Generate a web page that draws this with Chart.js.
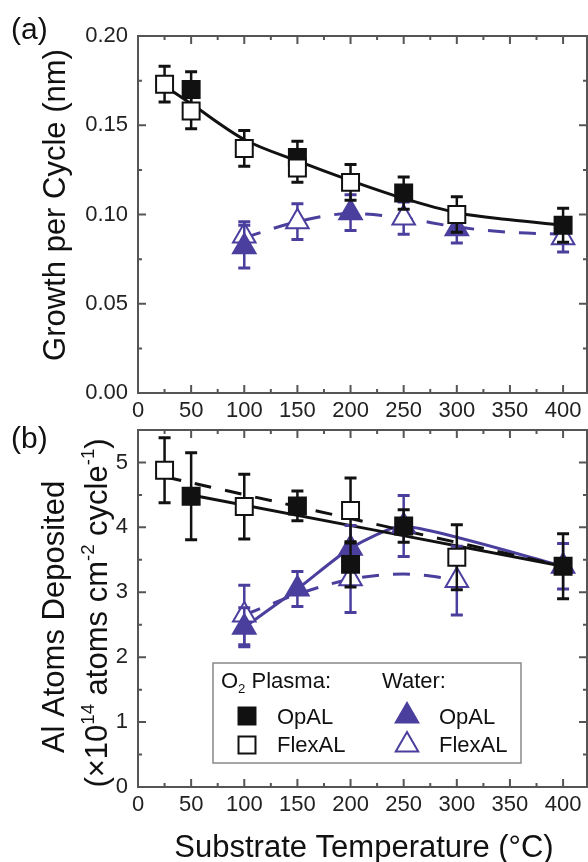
<!DOCTYPE html>
<html>
<head>
<meta charset="utf-8">
<script src="https://cdn.jsdelivr.net/npm/chart.js@4.4.1/dist/chart.umd.min.js"></script>
<style>
	html, body { margin: 0; padding: 0; background: #fff; }
	#wrap { position: relative; width: 588px; height: 862px; }
	canvas { position: absolute; left: 0; top: 0; }
</style>
</head>
<body>
<div id="wrap">
	<canvas id="chart-a" width="588" height="862"></canvas>
	<canvas id="chart-b" width="588" height="862"></canvas>
</div>
<script>
const xTicks = [0, 50, 100, 150, 200, 250, 300, 350, 400];
const xMinorTicks = [25, 75, 125, 175, 225, 275, 325, 375];
const gpcTicks = [0, 0.05, 0.10, 0.15, 0.20];
const gpcMinorTicks = [0.025, 0.075, 0.125, 0.175];
const atomTicks = [0, 1, 2, 3, 4, 5];
const atomMinorTicks = [0.5, 1.5, 2.5, 3.5, 4.5];

// (a) growth per cycle (nm)
const gpcPlasmaOpalT = [50, 150, 250, 400];
const gpcPlasmaOpal = [0.170, 0.132, 0.112, 0.094];
const gpcPlasmaOpalErr = [0.010, 0.009, 0.009, 0.0095];
const gpcPlasmaFlexT = [25, 50, 100, 150, 200, 300];
const gpcPlasmaFlex = [0.173, 0.158, 0.137, 0.126, 0.118, 0.100];
const gpcPlasmaFlexErr = [0.010, 0.010, 0.010, 0.008, 0.010, 0.010];
const gpcWaterOpalT = [100, 200, 300];
const gpcWaterOpal = [0.082, 0.101, 0.092];
const gpcWaterOpalErr = [0.012, 0.010, 0.008];
const gpcWaterFlexT = [100, 150, 250, 400];
const gpcWaterFlex = [0.088, 0.096, 0.098, 0.087];
const gpcWaterFlexErr = [0.008, 0.010, 0.009, 0.008];
const gpcPlasmaFitT = [25, 50, 100, 150, 200, 250, 300, 350, 400];
const gpcPlasmaFit = [0.172, 0.162, 0.142, 0.130, 0.119, 0.109, 0.101, 0.097, 0.094];
const gpcWaterFitT = [100, 150, 200, 250, 300, 350, 400];
const gpcWaterFit = [0.087, 0.096, 0.1005, 0.098, 0.093, 0.090, 0.089];

// (b) Al atoms deposited (x10^14 atoms cm^-2 cycle^-1)
const atomPlasmaOpalT = [50, 150, 200, 250, 400];
const atomPlasmaOpal = [4.48, 4.33, 3.43, 4.02, 3.40];
const atomPlasmaOpalErr = [0.67, 0.23, 0.35, 0.25, 0.50];
const atomPlasmaFlexT = [25, 100, 200, 300];
const atomPlasmaFlex = [4.88, 4.32, 4.26, 3.54];
const atomPlasmaFlexErr = [0.50, 0.50, 0.50, 0.50];
const atomWaterOpalT = [100, 150, 200, 250, 400];
const atomWaterOpal = [2.46, 3.05, 3.68, 4.02, 3.40];
const atomWaterOpalErr = [0.30, 0.27, 0.35, 0.47, 0.35];
const atomWaterFlexT = [100, 200, 300];
const atomWaterFlex = [2.65, 3.21, 3.18];
const atomWaterFlexErr = [0.46, 0.52, 0.53];
const atomPlasmaOpalFitT = [50, 400];
const atomPlasmaOpalFit = [4.50, 3.40];
const atomPlasmaFlexFitT = [25, 400];
const atomPlasmaFlexFit = [4.78, 3.40];
const atomWaterOpalFitT = [100, 150, 200, 250, 400];
const atomWaterOpalFit = [2.46, 3.05, 3.68, 4.02, 3.40];
const atomWaterFlexFitT = [100, 150, 200, 250, 300];
const atomWaterFlexFit = [2.65, 2.97, 3.20, 3.28, 3.20];

const BLUE = '#4b3f9e';
const BLACK = '#111';
const FONT = '"Liberation Sans", Arial, sans-serif';
const font = size => size + 'px ' + FONT;

const points = (xs, ys) => xs.map((x, i) => ({ x: x, y: ys[i] }));
const markers = (xs, ys, err, style, fill, stroke, order) => ({
	data: points(xs, ys),
	err: err,
	errColor: stroke,
	showLine: false,
	pointStyle: style,
	pointRadius: style === 'rect' ? 12 : 13,
	pointBackgroundColor: fill,
	pointBorderColor: stroke,
	pointBorderWidth: 2,
	order: order
});
const curve = (xs, ys, color, dash, smooth, order) => ({
	data: points(xs, ys),
	showLine: true,
	fill: false,
	pointRadius: 0,
	borderColor: color,
	borderWidth: 3,
	borderDash: dash,
	tension: smooth ? 0.4 : 0.2,
	cubicInterpolationMode: smooth ? 'monotone' : 'default',
	order: order
});

const richWidth = (ctx, parts, size) => {
	let w = 0;
	for (const part of parts) {
		ctx.font = font(part.sup || part.sub ? size * 0.6 : size);
		w += ctx.measureText(part.t).width;
	}
	return w;
};
const drawRich = (ctx, parts, x, y, size) => {
	let cx = x;
	for (const part of parts) {
		ctx.font = font(part.sup || part.sub ? size * 0.6 : size);
		const dy = part.sup ? -size * 0.42 : (part.sub ? size * 0.22 : 0);
		ctx.fillText(part.t, cx, y + dy);
		cx += ctx.measureText(part.t).width;
	}
};
const drawMarker = (ctx, style, x, y, r, fill, stroke) => {
	ctx.beginPath();
	if (style === 'rect') {
		const s = r * Math.SQRT1_2;
		ctx.rect(x - s, y - s, 2 * s, 2 * s);
	} else {
		for (let k = 0; k < 3; k++) {
			const a = k * 2 * Math.PI / 3;
			const px = x + Math.sin(a) * r, py = y - Math.cos(a) * r;
			k ? ctx.lineTo(px, py) : ctx.moveTo(px, py);
		}
		ctx.closePath();
	}
	ctx.fillStyle = fill;
	ctx.fill();
	ctx.lineWidth = 2;
	ctx.strokeStyle = stroke;
	ctx.stroke();
};

const errorBars = {
	id: 'errorBars',
	beforeDatasetDraw(chart, args) {
		const ds = chart.data.datasets[args.index];
		if (!ds.err) return;
		const { ctx, scales: { x, y } } = chart;
		ctx.save();
		ctx.strokeStyle = ds.errColor;
		ds.data.forEach((p, i) => {
			const px = x.getPixelForValue(p.x);
			const top = y.getPixelForValue(p.y + ds.err[i]);
			const bottom = y.getPixelForValue(p.y - ds.err[i]);
			ctx.lineWidth = 2.5;
			ctx.beginPath();
			ctx.moveTo(px, top);
			ctx.lineTo(px, bottom);
			ctx.stroke();
			ctx.lineWidth = 3;
			ctx.beginPath();
			ctx.moveTo(px - 6, top);
			ctx.lineTo(px + 6, top);
			ctx.moveTo(px - 6, bottom);
			ctx.lineTo(px + 6, bottom);
			ctx.stroke();
		});
		ctx.restore();
	}
};

const frame = {
	id: 'frame',
	afterDraw(chart, args, opts) {
		const { ctx, chartArea: a, scales: { x, y } } = chart;
		ctx.save();
		ctx.strokeStyle = '#555';
		ctx.lineWidth = 2;
		ctx.strokeRect(a.left, a.top, a.right - a.left, a.bottom - a.top);
		ctx.beginPath();
		const xt = (values, len) => values.forEach(v => {
			const px = x.getPixelForValue(v);
			ctx.moveTo(px, a.bottom);
			ctx.lineTo(px, a.bottom - len);
			ctx.moveTo(px, a.top);
			ctx.lineTo(px, a.top + len);
		});
		const yt = (values, len) => values.forEach(v => {
			const py = y.getPixelForValue(v);
			ctx.moveTo(a.left, py);
			ctx.lineTo(a.left + len, py);
			ctx.moveTo(a.right, py);
			ctx.lineTo(a.right - len, py);
		});
		xt(xTicks, 8);
		xt(xMinorTicks, 4);
		yt(opts.yMajor, 8);
		yt(opts.yMinor, 4);
		ctx.stroke();
		ctx.restore();
	}
};

const options = (yMax, yTicks, yMinor, format, padTop, padBottom) => ({
	responsive: false,
	animation: false,
	events: [],
	layout: { autoPadding: false, padding: { top: padTop, bottom: padBottom, left: 0, right: 1 } },
	plugins: {
		legend: { display: false },
		tooltip: { enabled: false },
		frame: { yMajor: yTicks, yMinor: yMinor }
	},
	scales: {
		x: {
			type: 'linear',
			min: 0,
			max: 422.5,
			grid: { display: false, drawTicks: false },
			border: { display: false },
			afterBuildTicks: s => { s.ticks = xTicks.map(v => ({ value: v })); },
			afterFit: s => { s.height = 30; s.paddingLeft = 0; s.paddingRight = 0; },
			ticks: { color: '#222', font: { family: FONT, size: 22 }, padding: 5, maxRotation: 0 }
		},
		y: {
			type: 'linear',
			min: 0,
			max: yMax,
			grid: { display: false, drawTicks: false },
			border: { display: false },
			afterBuildTicks: s => { s.ticks = yTicks.map(v => ({ value: v })); },
			afterFit: s => { s.width = 138; s.paddingTop = 0; s.paddingBottom = 0; },
			ticks: { color: '#222', font: { family: FONT, size: 22 }, padding: 10, callback: format }
		}
	}
});

const labelsA = {
	id: 'labelsA',
	afterDraw(chart) {
		const ctx = chart.ctx;
		ctx.save();
		ctx.fillStyle = BLACK;
		ctx.font = font(30);
		ctx.textAlign = 'left';
		ctx.textBaseline = 'middle';
		ctx.fillText('(a)', 11, 31);
		ctx.translate(65, 205);
		ctx.rotate(-Math.PI / 2);
		ctx.textAlign = 'center';
		ctx.textBaseline = 'alphabetic';
		ctx.font = font(31);
		ctx.fillText('Growth per Cycle (nm)', 0, 0);
		ctx.restore();
	}
};

const labelsB = {
	id: 'labelsB',
	afterDraw(chart) {
		const ctx = chart.ctx;
		ctx.save();
		ctx.fillStyle = BLACK;
		ctx.font = font(30);
		ctx.textAlign = 'left';
		ctx.textBaseline = 'middle';
		ctx.fillText('(b)', 11, 440);
		ctx.textBaseline = 'alphabetic';
		ctx.textAlign = 'center';
		ctx.font = font(31);
		ctx.fillText('Substrate Temperature (\u00B0C)', 364, 857);

		ctx.save();
		ctx.translate(64, 617);
		ctx.rotate(-Math.PI / 2);
		ctx.fillText('Al Atoms Deposited', 0, 0);
		ctx.restore();

		const unit = [
			{ t: '(\u00D710' }, { t: '14', sup: true }, { t: ' atoms cm' }, { t: '-2', sup: true },
			{ t: ' cycle' }, { t: '-1', sup: true }, { t: ')' }
		];
		ctx.save();
		ctx.translate(107, 613);
		ctx.rotate(-Math.PI / 2);
		ctx.textAlign = 'left';
		drawRich(ctx, unit, -richWidth(ctx, unit, 31) / 2, 0, 31);
		ctx.restore();

		// legend
		ctx.fillStyle = '#fff';
		ctx.fillRect(213, 663, 308, 100);
		ctx.strokeStyle = '#888';
		ctx.lineWidth = 1.5;
		ctx.strokeRect(213, 663, 308, 100);
		ctx.fillStyle = BLACK;
		ctx.textAlign = 'left';
		drawRich(ctx, [{ t: 'O' }, { t: '2', sub: true }, { t: ' Plasma:' }], 221, 688, 22);
		ctx.font = font(22);
		ctx.fillText('Water:', 382, 688);
		ctx.fillText('OpAL', 277, 724);
		ctx.fillText('FlexAL', 277, 752);
		ctx.fillText('OpAL', 439, 724);
		ctx.fillText('FlexAL', 439, 752);
		drawMarker(ctx, 'rect', 247, 716, 12, BLACK, BLACK);
		drawMarker(ctx, 'rect', 247, 745, 12, '#fff', BLACK);
		drawMarker(ctx, 'triangle', 407, 716, 13, BLUE, BLUE);
		drawMarker(ctx, 'triangle', 407, 745, 13, '#fff', BLUE);
		ctx.restore();
	}
};

new Chart(document.getElementById('chart-a'), {
	type: 'scatter',
	data: {
		datasets: [
			markers(gpcPlasmaFlexT, gpcPlasmaFlex, gpcPlasmaFlexErr, 'rect', '#fff', BLACK, 1),
			markers(gpcPlasmaOpalT, gpcPlasmaOpal, gpcPlasmaOpalErr, 'rect', BLACK, BLACK, 2),
			markers(gpcWaterFlexT, gpcWaterFlex, gpcWaterFlexErr, 'triangle', '#fff', BLUE, 4),
			markers(gpcWaterOpalT, gpcWaterOpal, gpcWaterOpalErr, 'triangle', BLUE, BLUE, 3),
			curve(gpcPlasmaFitT, gpcPlasmaFit, BLACK, [], true, 6),
			curve(gpcWaterFitT, gpcWaterFit, BLUE, [17, 14], true, 7)
		]
	},
	options: options(0.2, gpcTicks, gpcMinorTicks, v => v.toFixed(2), 36, 862 - 393 - 30),
	plugins: [errorBars, frame, labelsA]
});

new Chart(document.getElementById('chart-b'), {
	type: 'scatter',
	data: {
		datasets: [
			markers(atomPlasmaFlexT, atomPlasmaFlex, atomPlasmaFlexErr, 'rect', '#fff', BLACK, 1),
			markers(atomPlasmaOpalT, atomPlasmaOpal, atomPlasmaOpalErr, 'rect', BLACK, BLACK, 2),
			markers(atomWaterFlexT, atomWaterFlex, atomWaterFlexErr, 'triangle', '#fff', BLUE, 4),
			markers(atomWaterOpalT, atomWaterOpal, atomWaterOpalErr, 'triangle', BLUE, BLUE, 3),
			curve(atomPlasmaOpalFitT, atomPlasmaOpalFit, BLACK, [], false, 6),
			curve(atomPlasmaFlexFitT, atomPlasmaFlexFit, BLACK, [17, 14], false, 7),
			curve(atomWaterOpalFitT, atomWaterOpalFit, BLUE, [], false, 8),
			curve(atomWaterFlexFitT, atomWaterFlexFit, BLUE, [17, 14], true, 9)
		]
	},
	options: options(5.5, atomTicks, atomMinorTicks, v => String(v), 430, 862 - 787 - 30),
	plugins: [errorBars, frame, labelsB]
});
</script>
</body>
</html>
